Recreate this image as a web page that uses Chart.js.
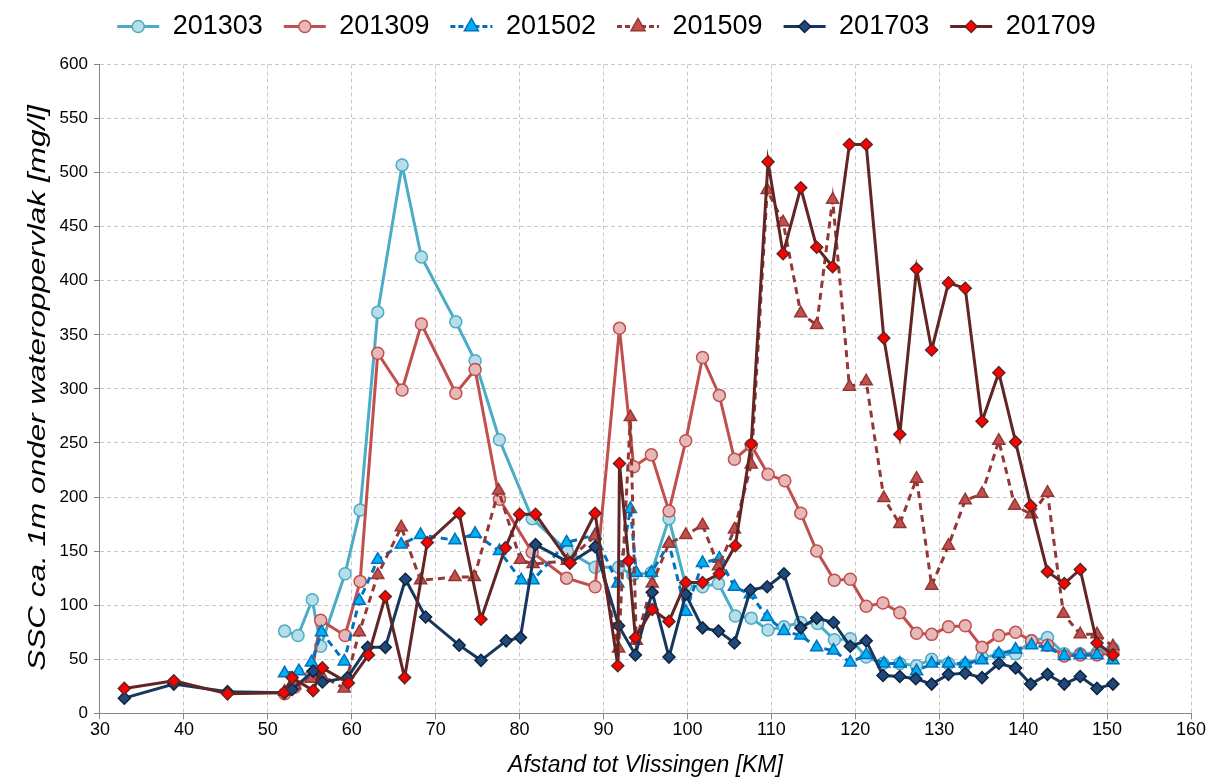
<!DOCTYPE html>
<html>
<head>
<meta charset="utf-8">
<script src="https://cdn.jsdelivr.net/npm/chart.js@4"></script>
<style>
  html, body { margin: 0; padding: 0; background: #fff; }
</style>
</head>
<body>
<canvas id="myChart" width="1217" height="778"></canvas>
<script>
// afstand tot Vlissingen (km) en SSC (mg/l) per meetcampagne
const km201303 = [52.0, 53.6, 55.3, 56.3, 59.2, 61.0, 63.1, 66.0, 68.3, 72.4, 74.7, 77.6, 81.5, 85.7, 89.0, 91.8, 93.5, 95.7, 97.8, 99.8, 101.8, 103.7, 105.7, 107.6, 109.6, 111.5, 113.5, 115.5, 117.5, 119.4, 121.3, 123.3, 125.3, 127.3, 129.1, 131.1, 133.1, 135.1, 137.1, 139.1, 141.0, 142.9, 144.9, 146.8, 148.8, 150.7];
const ssc201303 = [76, 72, 105, 62, 129, 188, 371, 507, 422, 362, 326, 253, 180, 150, 135, 135, 128, 130, 180, 118, 117, 120, 90, 88, 77, 80, 84, 83, 68, 69, 52, 46, 46, 44, 50, 46, 45, 52, 54, 55, 67, 70, 55, 55, 56, 60];

const km201309 = [52.0, 53.2, 55.2, 56.3, 59.2, 61.0, 63.1, 66.0, 68.3, 72.4, 74.7, 77.6, 81.5, 85.6, 89.0, 91.9, 93.6, 95.7, 97.8, 99.8, 101.8, 103.8, 105.6, 107.6, 109.6, 111.6, 113.5, 115.4, 117.5, 119.4, 121.3, 123.3, 125.3, 127.3, 129.1, 131.1, 133.1, 135.1, 137.1, 139.1, 141.0, 142.9, 144.9, 146.8, 148.8, 150.7];
const ssc201309 = [18, 24, 35, 86, 72, 122, 333, 299, 360, 296, 318, 198, 149, 125, 117, 356, 228, 239, 187, 252, 329, 294, 235, 248, 221, 215, 185, 150, 123, 124, 99, 102, 93, 74, 73, 80, 81, 61, 72, 75, 67, 63, 53, 54, 54, 56];

const km201502 = [52.0, 53.7, 55.2, 56.4, 59.1, 60.9, 63.1, 65.9, 68.2, 72.3, 74.7, 77.6, 80.2, 81.6, 85.6, 89.0, 91.7, 93.2, 93.9, 95.7, 97.8, 99.8, 101.8, 103.8, 105.6, 107.5, 109.5, 111.5, 113.5, 115.4, 117.4, 119.4, 121.3, 123.4, 125.3, 127.3, 129.1, 131.1, 133.1, 135.1, 137.1, 139.1, 141.0, 142.9, 144.9, 146.8, 148.8, 150.7];
const ssc201502 = [37, 39, 47, 75, 48, 104, 142, 156, 165, 160, 166, 150, 123, 123, 158, 165, 120, 189, 130, 130, 157, 94, 139, 143, 117, 110, 89, 76, 72, 61, 58, 47, 54, 46, 46, 39, 46, 46, 46, 49, 55, 59, 63, 61, 53, 54, 54, 49];

const km201509 = [52.0, 53.2, 55.2, 56.4, 59.1, 60.9, 63.1, 65.9, 68.2, 72.3, 74.6, 77.5, 80.1, 81.6, 85.7, 89.0, 91.8, 93.2, 93.9, 95.8, 97.8, 99.8, 101.8, 103.7, 105.6, 107.6, 109.5, 111.4, 113.5, 115.4, 117.3, 119.3, 121.3, 123.4, 125.3, 127.3, 129.1, 131.1, 133.1, 135.1, 137.1, 139.0, 141.0, 142.9, 144.8, 146.8, 148.8, 150.7];
const ssc201509 = [20, 26, 32, 35, 23, 75, 128, 172, 123, 126, 126, 206, 142, 138, 141, 164, 60, 274, 67, 120, 157, 165, 174, 136, 170, 230, 484, 454, 370, 359, 475, 302, 307, 199, 175, 217, 118, 155, 197, 203, 252, 192, 184, 204, 92, 73, 73, 62];

const km201703 = [32.9, 38.8, 45.2, 52.0, 52.9, 55.4, 56.5, 59.5, 61.9, 64.0, 66.4, 68.8, 72.8, 75.4, 78.4, 80.1, 81.9, 86.0, 89.0, 91.8, 93.8, 95.8, 97.8, 99.8, 101.8, 103.7, 105.6, 107.5, 109.5, 111.5, 113.5, 115.4, 117.4, 119.4, 121.3, 123.3, 125.3, 127.2, 129.1, 131.1, 133.1, 135.1, 137.1, 139.1, 140.9, 142.9, 144.9, 146.8, 148.8, 150.7];
const ssc201703 = [14, 27, 20, 19, 22, 39, 29, 33, 61, 61, 124, 89, 63, 49, 67, 70, 156, 139, 154, 81, 54, 112, 52, 110, 79, 76, 65, 114, 117, 129, 79, 88, 84, 62, 67, 35, 34, 32, 27, 36, 37, 33, 46, 42, 27, 36, 27, 34, 23, 27];

const km201709 = [32.9, 38.8, 45.2, 51.9, 52.9, 55.4, 56.5, 59.6, 62.0, 64.0, 66.3, 69.0, 72.8, 75.4, 78.3, 80.0, 81.9, 86.0, 89.0, 91.7, 91.9, 93.0, 93.8, 95.8, 97.8, 99.8, 101.8, 103.8, 105.7, 107.6, 109.6, 111.4, 113.5, 115.4, 117.3, 119.3, 121.3, 123.4, 125.3, 127.3, 129.1, 131.1, 133.1, 135.1, 137.1, 139.1, 140.9, 142.9, 144.9, 146.8, 148.8, 150.7];
const ssc201709 = [23, 30, 18, 19, 33, 21, 42, 28, 54, 108, 33, 158, 185, 87, 153, 184, 184, 139, 185, 44, 231, 141, 70, 96, 85, 121, 121, 129, 155, 249, 510, 425, 486, 431, 413, 526, 526, 347, 258, 411, 336, 398, 393, 270, 315, 251, 192, 131, 120, 133, 65, 54];

const xTicks = [30, 40, 50, 60, 70, 80, 90, 100, 110, 120, 130, 140, 150, 160];
const yTicks = [0, 50, 100, 150, 200, 250, 300, 350, 400, 450, 500, 550, 600];
const yTitle = 'SSC ca. 1m onder wateroppervlak [mg/l]';

function pts(km, val) {
  return km.map((k, i) => ({ x: k, y: val[i] }));
}

function serie(label, km, val, line, fill, edge, style, radius, dash, order) {
  return {
    label: label,
    data: pts(km, val),
    borderColor: line,
    backgroundColor: fill,
    borderWidth: 3,
    borderDash: dash,
    pointStyle: style,
    pointRadius: radius,
    pointBackgroundColor: fill,
    pointBorderColor: edge,
    pointBorderWidth: 1.5,
    tension: 0,
    order: order
  };
}

const datasets = [
  serie('201303', km201303, ssc201303, '#4BACC6', '#B7DEE8', '#4BACC6', 'circle', 6, [], 6),
  serie('201309', km201309, ssc201309, '#C0504D', '#E6B9B8', '#C0504D', 'circle', 6, [], 5),
  serie('201502', km201502, ssc201502, '#0070C0', '#00B0F0', '#0070C0', 'triangle', 7, [7, 5], 4),
  serie('201509', km201509, ssc201509, '#953735', '#C0504D', '#953735', 'triangle', 7, [7, 5], 3),
  serie('201703', km201703, ssc201703, '#17375E', '#1F497D', '#0F243E', 'rectRot', 6, [], 2),
  serie('201709', km201709, ssc201709, '#632523', '#FF0000', '#632523', 'rectRot', 6, [], 1)
];

// legenda: lijn met marker, zoals in Excel
function drawMarker(ctx, style, x, y, r, fill, edge) {
  ctx.save();
  ctx.fillStyle = fill;
  ctx.strokeStyle = edge;
  ctx.lineWidth = 1.5;
  ctx.setLineDash([]);
  ctx.beginPath();
  if (style === 'circle') {
    ctx.arc(x, y, r, 0, Math.PI * 2);
  } else if (style === 'triangle') {
    ctx.moveTo(x, y - r * 1.15);
    ctx.lineTo(x + r, y + r * 0.6);
    ctx.lineTo(x - r, y + r * 0.6);
    ctx.closePath();
  } else {
    ctx.moveTo(x, y - r);
    ctx.lineTo(x + r, y);
    ctx.lineTo(x, y + r);
    ctx.lineTo(x - r, y);
    ctx.closePath();
  }
  ctx.fill();
  ctx.stroke();
  ctx.restore();
}

const legendLines = {
  id: 'legendLines',
  beforeInit(chart) {
    // extra ruimte onder de legenda
    const fit = chart.legend.fit;
    chart.legend.fit = function () {
      fit.call(this);
      this.height += 14.5;
    };
  },
  afterDraw(chart) {
    const lg = chart.legend;
    const ctx = chart.ctx;
    lg.legendHitBoxes.forEach((hb, i) => {
      const ds = chart.data.datasets[i];
      const y = hb.top + hb.height / 2;
      const x0 = hb.left;
      const x1 = hb.left + 42;
      ctx.save();
      ctx.strokeStyle = ds.borderColor;
      ctx.lineWidth = 3;
      ctx.setLineDash(ds.borderDash.length ? [5, 3] : []);
      ctx.beginPath();
      ctx.moveTo(x0, y);
      ctx.lineTo(x1, y);
      ctx.stroke();
      ctx.restore();
      drawMarker(ctx, ds.pointStyle, (x0 + x1) / 2, y, ds.pointStyle === 'triangle' ? 7 : 6, ds.pointBackgroundColor, ds.pointBorderColor);
    });

    // y-as titel, in de lengte uitgerekt zoals het origineel
    const area = chart.chartArea;
    ctx.save();
    ctx.translate(39, (area.top + area.bottom) / 2 - 1);
    ctx.rotate(-Math.PI / 2);
    ctx.scale(1.37, 1);
    ctx.font = 'italic 23px Arial, "Liberation Sans"';
    ctx.fillStyle = '#000';
    ctx.textAlign = 'center';
    ctx.textBaseline = 'middle';
    ctx.fillText(yTitle, 0, 0);
    ctx.restore();
  }
};

const ctx = document.getElementById('myChart');
new Chart(ctx, {
  type: 'line',
  data: { datasets: datasets },
  plugins: [legendLines],
  options: {
    responsive: false,
    animation: false,
    layout: { padding: { left: 22, right: 26, top: -8, bottom: -1.5 } },
    plugins: {
      tooltip: { enabled: false },
      legend: {
        position: 'top',
        labels: {
          boxWidth: 42,
          boxHeight: 12,
          padding: 21,
          color: '#000',
          font: { family: 'Arial, "Liberation Sans"', size: 27 },
          generateLabels(chart) {
            return chart.data.datasets.map((ds, i) => ({
              text: ds.label,
              fillStyle: 'rgba(0,0,0,0)',
              strokeStyle: 'rgba(0,0,0,0)',
              lineWidth: 0,
              datasetIndex: i,
              hidden: false
            }));
          }
        }
      }
    },
    scales: {
      x: {
        type: 'linear',
        min: 30,
        max: 160,
        afterBuildTicks(axis) { axis.ticks = xTicks.map(v => ({ value: v })); },
        ticks: { color: '#000', font: { family: 'Arial, "Liberation Sans"', size: 18 }, padding: 0 },
        grid: { color: '#C8C8C8', lineWidth: 1, tickLength: 6, tickColor: '#868686' },
        border: { display: true, color: '#868686', dash: [4, 3] },
        title: {
          display: true,
          text: 'Afstand tot Vlissingen [KM]',
          color: '#000',
          font: { family: 'Arial, "Liberation Sans"', size: 23, style: 'italic' },
          padding: { top: 11, bottom: 0 }
        }
      },
      y: {
        min: 0,
        max: 600,
        afterBuildTicks(axis) { axis.ticks = yTicks.map(v => ({ value: v })); },
        ticks: { color: '#000', font: { family: 'Arial, "Liberation Sans"', size: 17 }, padding: 6 },
        grid: { color: '#C8C8C8', lineWidth: 1, tickLength: 6, tickColor: '#868686' },
        border: { display: true, color: '#868686', dash: [4, 3] },
        title: {
          // ruimte voor de titel; de tekst zelf wordt in afterDraw getekend
          display: true,
          text: yTitle,
          color: 'rgba(0,0,0,0)',
          font: { family: 'Arial, "Liberation Sans"', size: 23, style: 'italic' },
          padding: { top: 0, bottom: 4 }
        }
      }
    }
  }
});
</script>
</body>
</html>
